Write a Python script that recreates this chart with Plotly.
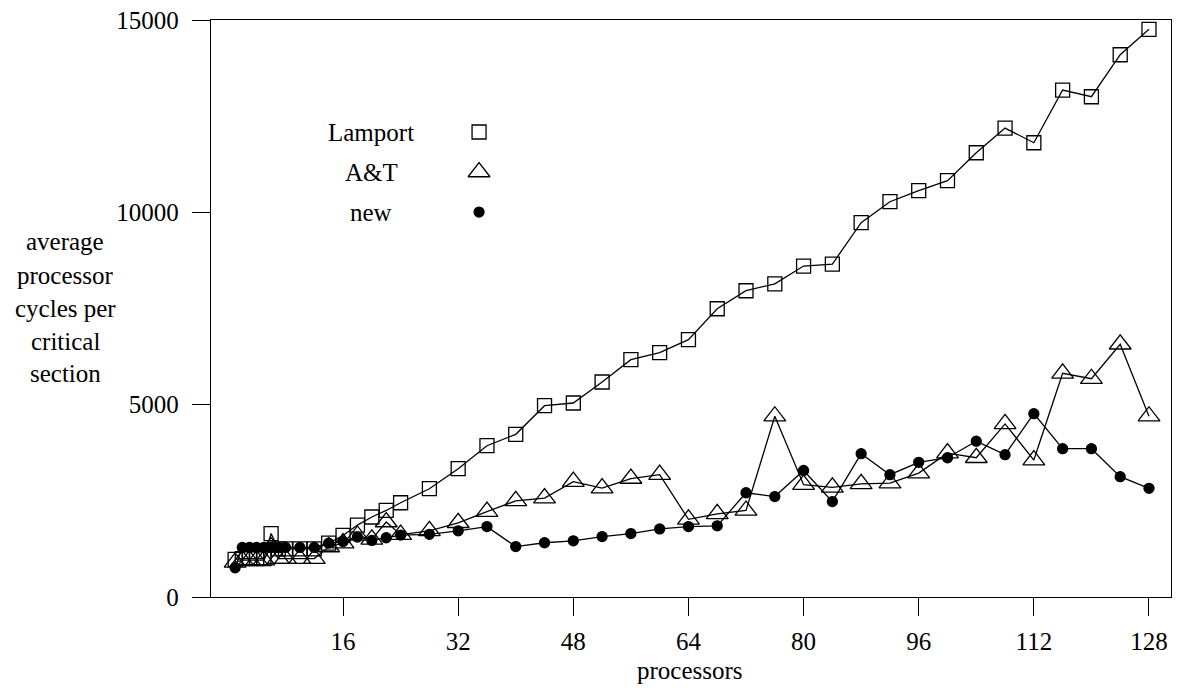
import plotly.graph_objects as go

# ---- data ----
processors = [1, 2, 3, 4, 5, 6, 7, 8, 10, 12, 14, 16, 18, 20, 22, 24,
              28, 32, 36, 40, 44, 48, 52, 56, 60, 64, 68, 72, 76, 80,
              84, 88, 92, 96, 100, 104, 108, 112, 116, 120, 124, 128]

lamport = [980, 1000, 1000, 1000, 1000, 1650, 1250, 1250, 1250, 1250, 1400, 1600,
           1870, 2080, 2250, 2450, 2815, 3335, 3933, 4229, 4973, 5043, 5589, 6169,
           6351, 6689, 7494, 7962, 8140, 8604, 8656, 9730, 10276, 10562, 10822,
           11549, 12191, 11809, 13179, 13005, 14097, 14757]

a_and_t = [900, 960, 960, 960, 960, 1300, 1000, 1000, 1000, 1000, 1300, 1400,
           1600, 1500, 1950, 1620, 1720, 1930, 2220, 2500, 2570, 3000, 2830, 3080,
           3180, 2020, 2160, 2250, 4700, 2920, 2850, 2940, 2960, 3220, 3740,
           3620, 4500, 3560, 5815, 5675, 6570, 4700]

new = [760, 1290, 1290, 1290, 1290, 1290, 1290, 1290, 1290, 1290, 1400, 1440,
       1560, 1470, 1540, 1610, 1630, 1720, 1830, 1310, 1410, 1460, 1570, 1650,
       1770, 1830, 1850, 2710, 2610, 3290, 2480, 3725, 3180, 3500, 3620,
       4050, 3700, 4766, 3855, 3855, 3127, 2825]

series_names = ["Lamport", "A&T", "new"]
x_ticks = [16, 32, 48, 64, 80, 96, 112, 128]
y_ticks = [0, 5000, 10000, 15000]
y_title_lines = ["average", "processor", "cycles per", "critical", "section"]

FONT = "Liberation Serif, Times New Roman, serif"
FS = 25
LW = 1.3

styles = {
    "Lamport": dict(symbol="square-open", size=14),
    "A&T": dict(symbol="triangle-up-open", size=19),
    "new": dict(symbol="circle", size=10),
}

fig = go.Figure()
for name, ys in zip(series_names, [lamport, a_and_t, new]):
    st = styles[name]
    fig.add_trace(go.Scatter(
        x=processors, y=ys, mode="lines+markers", name=name, showlegend=False,
        line=dict(color="black", width=LW),
        marker=dict(symbol=st["symbol"], size=st["size"], color="black",
                    line=dict(color="black", width=LW)),
    ))

# legend (text left, key symbol right), in data coordinates
legend_text_x = 19.9
legend_key_x = 34.9
legend_y = [12088, 11048, 10008]
for name, ly in zip(series_names, legend_y):
    st = styles[name]
    fig.add_trace(go.Scatter(
        x=[legend_key_x], y=[ly], mode="markers", showlegend=False,
        marker=dict(symbol=st["symbol"], size=st["size"], color="black",
                    line=dict(color="black", width=LW)),
    ))
    fig.add_annotation(x=legend_text_x, y=ly, xref="x", yref="y", text=name,
                       showarrow=False, xanchor="center", yanchor="middle",
                       font=dict(family=FONT, size=FS, color="black"))

# multi-line y-axis title, one line per annotation (33 px apart)
plot_h = 577.0
for i, line in enumerate(y_title_lines):
    py = 242 + 33 * i  # pixel row from top of page
    fig.add_annotation(
        x=-0.152, y=(597 - py) / plot_h, xref="paper", yref="paper",
        text=line, showarrow=False, xanchor="center", yanchor="middle",
        font=dict(family=FONT, size=FS, color="black"))

fig.add_annotation(
    x=0.499, y=-0.128, xref="paper", yref="paper", text="processors",
    showarrow=False, xanchor="center", yanchor="middle",
    font=dict(family=FONT, size=FS, color="black"))

axis_common = dict(showgrid=False, zeroline=False, showline=True, mirror=True,
                   linecolor="black", linewidth=1.3, ticks="outside", ticklen=18,
                   tickwidth=1.3, tickcolor="black", automargin=False,
                   tickfont=dict(family=FONT, size=FS, color="black"))

fig.update_xaxes(range=[-2.35, 131.06], tickmode="array", tickvals=x_ticks,
                 ticktext=[str(t) for t in x_ticks], ticklabelstandoff=4,
                 **axis_common)
fig.update_yaxes(range=[0, 15000], tickmode="array", tickvals=y_ticks,
                 ticktext=[str(t) for t in y_ticks], ticklabelstandoff=8,
                 **axis_common)

fig.update_layout(
    width=1183, height=688,
    margin=dict(l=211, r=12, t=20, b=91),
    paper_bgcolor="white", plot_bgcolor="white",
    font=dict(family=FONT, size=FS, color="black"),
)

fig.write_html("out.html")
